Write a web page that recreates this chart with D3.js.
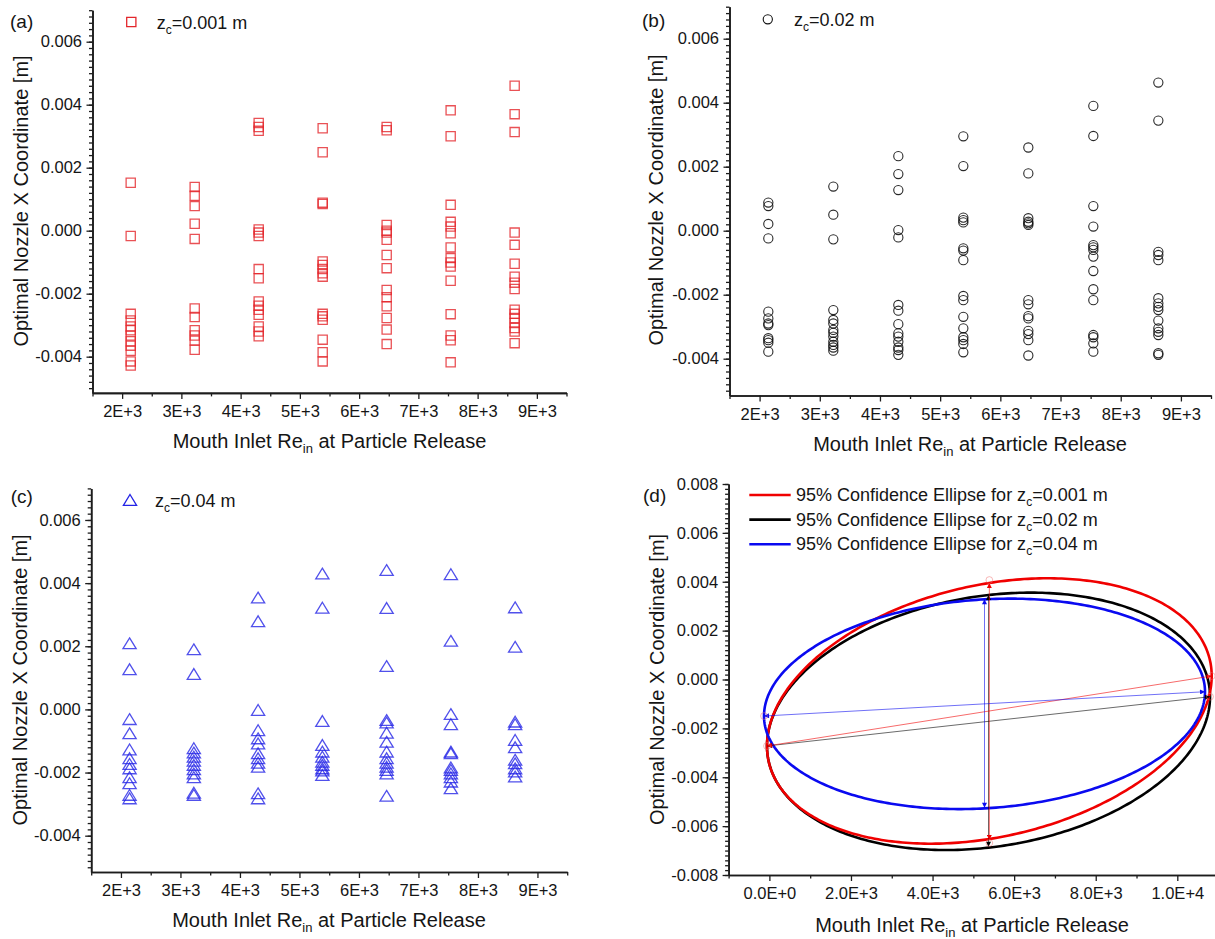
<!DOCTYPE html>
<html>
<head>
<meta charset="utf-8">
<script src="https://cdn.jsdelivr.net/npm/d3@7"></script>
<style>
  body { margin: 0; background: #fff; }
  svg { display: block; }
  text { font-family: Arial, "Liberation Sans", Helvetica, sans-serif; fill: #151515; }
</style>
</head>
<body>
<script>
// ---------------- DATA ----------------
// Mouth inlet Reynolds numbers at particle release (x positions of the point columns)
const reIn = [2145, 3225, 4305, 5385, 6465, 7545, 8625];

// Optimal nozzle X coordinate [m], one inner array per Re column
const zc001 = [
  [0.00152, -0.00017, -0.00264, -0.00285, -0.00304, -0.00316, -0.00333, -0.00351, -0.00365, -0.00381, -0.00415, -0.00428],
  [0.00139, 0.00111, 0.00078, 0.00022, -0.00026, -0.00247, -0.00274, -0.00316, -0.00333, -0.00349, -0.00378],
  [0.00342, 0.00329, 0.00317, 0.00004, -0.00006, -0.00017, -0.00122, -0.00151, -0.00225, -0.00238, -0.00251, -0.00267, -0.00304, -0.00320, -0.00335],
  [0.00325, 0.00249, 0.00089, 0.00085, -0.00098, -0.00109, -0.00122, -0.00135, -0.00146, -0.00264, -0.00272, -0.00283, -0.00346, -0.00386, -0.00415],
  [0.00329, 0.00319, 0.00018, 0.00000, -0.00006, -0.00029, -0.00077, -0.00119, -0.00188, -0.00211, -0.00240, -0.00277, -0.00314, -0.00360],
  [0.00382, 0.00300, 0.00082, 0.00028, 0.00013, -0.00008, -0.00053, -0.00087, -0.00101, -0.00114, -0.00159, -0.00265, -0.00333, -0.00348, -0.00418],
  [0.00460, 0.00370, 0.00313, -0.00006, -0.00045, -0.00105, -0.00146, -0.00165, -0.00185, -0.00251, -0.00264, -0.00277, -0.00293, -0.00309, -0.00320, -0.00357]
];
const zc002 = [
  [0.00088, 0.00077, 0.00021, -0.00024, -0.00253, -0.00274, -0.00290, -0.00295, -0.00336, -0.00342, -0.00350, -0.00378],
  [0.00138, 0.00050, -0.00027, -0.00248, -0.00279, -0.00290, -0.00310, -0.00319, -0.00331, -0.00347, -0.00357, -0.00365, -0.00375],
  [0.00233, 0.00177, 0.00127, 0.00002, -0.00021, -0.00232, -0.00250, -0.00292, -0.00321, -0.00331, -0.00347, -0.00365, -0.00373, -0.00388],
  [0.00295, 0.00202, 0.00041, 0.00033, 0.00026, -0.00055, -0.00062, -0.00092, -0.00204, -0.00217, -0.00269, -0.00305, -0.00333, -0.00342, -0.00354, -0.00380],
  [0.00260, 0.00179, 0.00039, 0.00028, 0.00023, 0.00018, -0.00217, -0.00230, -0.00267, -0.00274, -0.00313, -0.00323, -0.00342, -0.00390],
  [0.00390, 0.00296, 0.00077, 0.00013, -0.00045, -0.00052, -0.00060, -0.00081, -0.00126, -0.00183, -0.00217, -0.00326, -0.00333, -0.00352, -0.00378],
  [0.00463, 0.00344, -0.00066, -0.00076, -0.00092, -0.00211, -0.00227, -0.00238, -0.00248, -0.00281, -0.00305, -0.00316, -0.00326, -0.00383, -0.00388]
];
const zc004 = [
  [0.00209, 0.00127, -0.00031, -0.00076, -0.00127, -0.00155, -0.00173, -0.00187, -0.00215, -0.00234, -0.00271, -0.00282],
  [0.00190, 0.00112, -0.00123, -0.00137, -0.00150, -0.00163, -0.00176, -0.00190, -0.00203, -0.00215, -0.00264, -0.00271],
  [0.00354, 0.00279, -0.00002, -0.00066, -0.00092, -0.00108, -0.00139, -0.00155, -0.00169, -0.00182, -0.00266, -0.00282],
  [0.00430, 0.00322, -0.00037, -0.00113, -0.00134, -0.00150, -0.00166, -0.00176, -0.00187, -0.00194, -0.00208],
  [0.00441, 0.00321, 0.00137, -0.00034, -0.00042, -0.00074, -0.00103, -0.00134, -0.00155, -0.00169, -0.00182, -0.00192, -0.00203, -0.00274],
  [0.00428, 0.00217, -0.00015, -0.00047, -0.00134, -0.00139, -0.00184, -0.00192, -0.00203, -0.00215, -0.00229, -0.00250],
  [0.00323, 0.00198, -0.00039, -0.00047, -0.00097, -0.00120, -0.00160, -0.00171, -0.00187, -0.00197, -0.00213]
];

// Panel (d): 95% confidence ellipses, major-axis end points [Re, x] and minor-axis end values [top, bottom]
const ellipseNames = ["0.001", "0.02", "0.04"];
const ellipseColors = ["#f00000", "#000000", "#0a0af0"];
const majorLeft  = [[-59, -0.00272], [-59, -0.00272], [-132, -0.001494]];
const majorRight = [[10843, 0.000143], [10802, -0.000704], [10679, -0.000500]];
const minorEnds  = [[0.00395, -0.00657], [0.003457, -0.00684], [0.00328, -0.005245]];

// Tick values
const xTicksRe = [2000, 3000, 4000, 5000, 6000, 7000, 8000, 9000];
const xMinorRe = [1500, 2500, 3500, 4500, 5500, 6500, 7500, 8500, 9500];
const yTicksScatter = [-0.004, -0.002, 0, 0.002, 0.004, 0.006];
const xTicksD = [0, 2000, 4000, 6000, 8000, 10000];
const xMinorD = [-1000, 1000, 3000, 5000, 7000, 9000, 11000];
const yTicksD = [-0.008, -0.006, -0.004, -0.002, 0, 0.002, 0.004, 0.006, 0.008];

// ---------------- DRAWING ----------------
const svg = d3.select("body").append("svg").attr("width", 1215).attr("height", 939);
const FONT = 'Arial, "Liberation Sans", Helvetica, sans-serif';
const AX = "#1c1c1c";

const fmtY = v => { const s = Math.abs(v) < 1e-12 ? "0.000" : v.toFixed(3); return s; };
const fmtRe = v => v.toExponential(0).replace("e+", "E+");
const fmtD = v => v.toExponential(1).replace("e+", "E+");

function drawAxes(cfg) {
  const x = d3.scaleLinear().domain(cfg.xDomain).range(cfg.xRange);
  const y = d3.scaleLinear().domain(cfg.yDomain).range(cfg.yRange);
  const g = svg.append("g");
  const y0 = cfg.yRange[0], x0 = cfg.xRange[0];

  const ax = [];
  ax.push(g.append("g").attr("transform", `translate(0,${y0})`)
    .call(d3.axisBottom(x).tickValues(cfg.xMinor).tickFormat("").tickSize(3.5).tickSizeOuter(0)));
  ax.push(g.append("g").attr("transform", `translate(0,${y0})`)
    .call(d3.axisBottom(x).tickValues(cfg.xMajor).tickFormat(cfg.xFmt).tickSize(6).tickSizeOuter(0).tickPadding(6.5)));
  ax.push(g.append("g").attr("transform", `translate(${x0},0)`)
    .call(d3.axisLeft(y).tickValues(cfg.yMinor).tickFormat("").tickSize(3.5).tickSizeOuter(0)));
  ax.push(g.append("g").attr("transform", `translate(${x0},0)`)
    .call(d3.axisLeft(y).tickValues(cfg.yMajor).tickFormat(fmtY).tickSize(6).tickSizeOuter(0).tickPadding(4.5)));
  ax.forEach(a => {
    a.attr("font-family", FONT).attr("font-size", 16.5);
    a.selectAll("path").attr("stroke", AX).attr("stroke-width", 1.6);
    a.selectAll("line").attr("stroke", AX).attr("stroke-width", 1.3);
    a.selectAll("text").attr("fill", "#151515");
  });

  // panel label
  g.append("text").attr("x", cfg.label[1]).attr("y", cfg.label[2])
    .attr("font-size", 19).text(cfg.label[0]);

  // x title
  const xt = g.append("text").attr("x", cfg.xTitle[0]).attr("y", cfg.xTitle[1])
    .attr("text-anchor", "middle").attr("font-size", 20);
  xt.append("tspan").text("Mouth Inlet Re");
  xt.append("tspan").attr("font-size", 13).attr("dy", 5).text("in");
  xt.append("tspan").attr("dy", -5).text(" at Particle Release");

  // y title
  g.append("text").attr("transform", `translate(${cfg.yTitle[0]},${cfg.yTitle[1]}) rotate(-90)`)
    .attr("text-anchor", "middle").attr("font-size", 20)
    .text("Optimal Nozzle X Coordinate [m]");
  return { g, x, y };
}

function legendText(g, x, y, txt) {
  const t = g.append("text").attr("x", x).attr("y", y).attr("font-size", 18);
  t.append("tspan").text(txt[0]);
  t.append("tspan").attr("font-size", 12).attr("dy", 5).text("c");
  t.append("tspan").attr("dy", -5).text(txt[1]);
  return t;
}

const yMinorScatter = d3.range(-25, 36).map(i => i * 0.0002);
const yMinorD = d3.range(-40, 41).map(i => i * 0.0002);

const squarePath = "M-4.6,-4.6H4.6V4.6H-4.6Z";
const trianglePath = "M0,-5.5L6.6,5.3L-6.6,5.3Z";

function scatterPanel(cfg, series, shape, color, opacity, sw, legend) {
  const { g, x, y } = drawAxes(cfg);
  const pts = [];
  series.forEach((col, i) => col.forEach(v => pts.push([reIn[i], v])));
  const marks = g.append("g");
  if (shape === "circle") {
    marks.selectAll("circle").data(pts).join("circle")
      .attr("cx", d => x(d[0])).attr("cy", d => y(d[1])).attr("r", 4.6)
      .attr("fill", "none").attr("stroke", color).attr("stroke-width", sw).attr("stroke-opacity", opacity);
  } else {
    marks.selectAll("path").data(pts).join("path")
      .attr("transform", d => `translate(${x(d[0])},${y(d[1])})`)
      .attr("d", shape === "square" ? squarePath : trianglePath)
      .attr("fill", "none").attr("stroke", color).attr("stroke-width", sw).attr("stroke-opacity", opacity);
  }
  // legend
  const lg = g.append("g");
  if (shape === "circle") {
    lg.append("circle").attr("cx", legend.mx).attr("cy", legend.my).attr("r", 4.6)
      .attr("fill", "none").attr("stroke", color).attr("stroke-width", sw);
  } else {
    lg.append("path").attr("transform", `translate(${legend.mx},${legend.my})`)
      .attr("d", shape === "square" ? squarePath : trianglePath)
      .attr("fill", "none").attr("stroke", color).attr("stroke-width", sw);
  }
  legendText(lg, legend.tx, legend.ty, ["z", legend.text]);
}

// Panel (a)
scatterPanel({
  xDomain: [1500, 9500], xRange: [92.5, 566.5], yDomain: [-0.00515, 0.007], yRange: [392.9, 10.2],
  xMajor: xTicksRe, xMinor: xMinorRe, xFmt: fmtRe, yMajor: yTicksScatter, yMinor: yMinorScatter,
  label: ["(a)", 10, 28], xTitle: [329.5, 448.3], yTitle: [27.5, 201]
}, zc001, "square", "#e3262b", 0.8, 1.3, { mx: 131.3, my: 22, tx: 156.7, ty: 29.3, text: "=0.001 m" });

// Panel (b)
scatterPanel({
  xDomain: [1500, 9500], xRange: [729.5, 1211], yDomain: [-0.00515, 0.007], yRange: [395.5, 6.7],
  xMajor: xTicksRe, xMinor: xMinorRe, xFmt: fmtRe, yMajor: yTicksScatter, yMinor: yMinorScatter,
  label: ["(b)", 642, 27], xTitle: [970, 450.7], yTitle: [663, 200]
}, zc002, "circle", "#111111", 0.9, 1.1, { mx: 767.8, my: 19.3, tx: 794, ty: 26, text: "=0.02 m" });

// Panel (c)
scatterPanel({
  xDomain: [1500, 9500], xRange: [91.2, 567.2], yDomain: [-0.00515, 0.007], yRange: [872, 488.4],
  xMajor: xTicksRe, xMinor: xMinorRe, xFmt: fmtRe, yMajor: yTicksScatter, yMinor: yMinorScatter,
  label: ["(c)", 10.7, 503], xTitle: [329, 926.7], yTitle: [26.8, 680]
}, zc004, "triangle", "#2424e6", 0.8, 1.3, { mx: 130, my: 500, tx: 155, ty: 506.7, text: "=0.04 m" });

// Panel (d)
(function () {
  const { g, x, y } = drawAxes({
    xDomain: [-1000, 11000], xRange: [728.6, 1218.1], yDomain: [-0.008, 0.008], yRange: [875, 484],
    xMajor: xTicksD, xMinor: xMinorD, xFmt: fmtD, yMajor: yTicksD, yMinor: yMinorD,
    label: ["(d)", 643, 501.7], xTitle: [972, 931.7], yTitle: [663.5, 679.5]
  });
  const defs = svg.append("defs");
  ellipseColors.forEach((c, i) => {
    defs.append("marker").attr("id", "arr" + i).attr("viewBox", "0 0 10 10")
      .attr("refX", 10).attr("refY", 5).attr("markerWidth", 7).attr("markerHeight", 5)
      .attr("markerUnits", "userSpaceOnUse").attr("orient", "auto-start-reverse")
      .append("path").attr("d", "M0,0L10,5L0,10Z").attr("fill", c);
  });
  const line = d3.line().curve(d3.curveLinearClosed);
  const order = [1, 0, 2];
  const ell = g.append("g"), axes = g.append("g");
  order.forEach(i => {
    const L = majorLeft[i], R = majorRight[i];
    const cx = (L[0] + R[0]) / 2, cy = (L[1] + R[1]) / 2;
    const ax = R[0] - cx, ay = R[1] - cy;
    const by = minorEnds[i][0] - cy;
    const pts = d3.range(0, 360).map(k => {
      const t = k * Math.PI / 180;
      return [x(cx + ax * Math.cos(t)), y(cy + ay * Math.cos(t) + by * Math.sin(t))];
    });
    ell.append("path").attr("d", line(pts)).attr("fill", "none")
      .attr("stroke", ellipseColors[i]).attr("stroke-width", 2.6);
    // major & minor axis lines with arrowheads
    axes.append("line").attr("x1", x(L[0])).attr("y1", y(L[1])).attr("x2", x(R[0])).attr("y2", y(R[1]))
      .attr("stroke", ellipseColors[i]).attr("stroke-width", 0.9).attr("stroke-opacity", 0.65)
      .attr("marker-start", `url(#arr${i})`).attr("marker-end", `url(#arr${i})`);
    axes.append("line").attr("x1", x(cx)).attr("y1", y(minorEnds[i][0])).attr("x2", x(cx)).attr("y2", y(minorEnds[i][1]))
      .attr("stroke", ellipseColors[i]).attr("stroke-width", 0.9).attr("stroke-opacity", 0.65)
      .attr("marker-start", `url(#arr${i})`).attr("marker-end", `url(#arr${i})`);
  });
  // faint end-point circles
  const endPts = [majorLeft[0], majorRight[0], majorLeft[2], majorRight[1],
    [(majorLeft[0][0] + majorRight[0][0]) / 2, minorEnds[0][0] + 0.00012],
    [(majorLeft[0][0] + majorRight[0][0]) / 2, minorEnds[0][1] - 0.00012]];
  axes.selectAll("circle.ep").data(endPts).join("circle").attr("class", "ep")
    .attr("cx", d => x(d[0])).attr("cy", d => y(d[1])).attr("r", 3.4)
    .attr("fill", "none").attr("stroke", "#f07070").attr("stroke-opacity", 0.55).attr("stroke-width", 0.9);

  // legend
  const lg = g.append("g");
  ellipseNames.forEach((n, i) => {
    const yy = 495 + i * 24.6;
    lg.append("line").attr("x1", 749.3).attr("x2", 790.7).attr("y1", yy).attr("y2", yy)
      .attr("stroke", ellipseColors[i]).attr("stroke-width", 2.6);
    legendText(lg, 796, yy + 6, ["95% Confidence Ellipse for z", "=" + n + " m"]);
  });
})();
</script>
</body>
</html>
